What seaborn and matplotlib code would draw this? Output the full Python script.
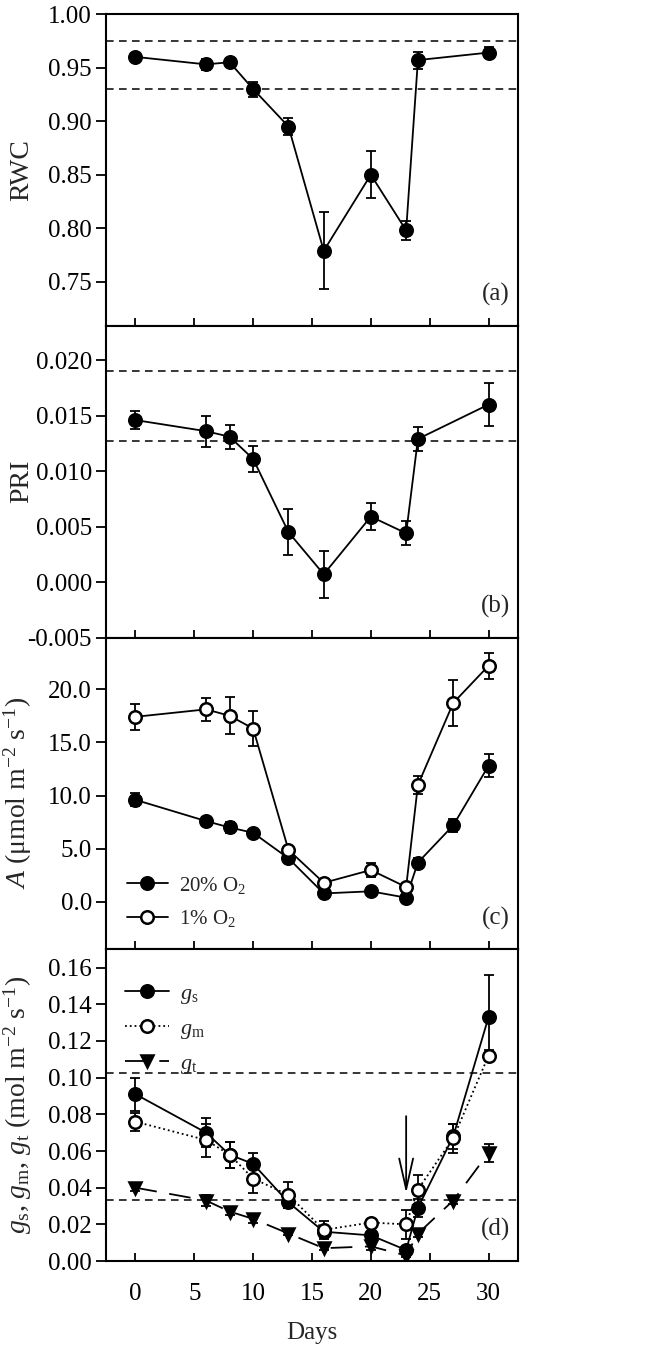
import numpy as np
import pandas as pd
import matplotlib
matplotlib.use('Agg')
import matplotlib.pyplot as plt
import seaborn as sns
from matplotlib.ticker import FormatStrFormatter, MultipleLocator

# ---------------- data ----------------
days = [0, 6, 8, 10, 13, 16, 20, 23, 24, 27, 30]
rwc_days = [0, 6, 8, 10, 13, 16, 20, 23, 24, 30]
rwc = [0.960, 0.953, 0.955, 0.930, 0.895, 0.779, 0.850, 0.798, 0.957, 0.964]
rwc_err = [0.003, 0.005, 0.003, 0.007, 0.008, 0.036, 0.022, 0.009, 0.008, 0.005]
rwc_ref = [0.975, 0.930]

pri_days = [0, 6, 8, 10, 13, 16, 20, 23, 24, 30]
pri = [0.0146, 0.0136, 0.0131, 0.0111, 0.0045, 0.0007, 0.0059, 0.0044, 0.0129, 0.0160]
pri_err = [0.0008, 0.0014, 0.0011, 0.0012, 0.0021, 0.0021, 0.0012, 0.0011, 0.0011, 0.0019]
pri_ref = [0.0190, 0.0127]

a20 = [9.6, 7.6, 7.0, 6.5, 4.1, 0.8, 1.0, 0.4, 3.7, 7.2, 12.8]
a20_err = [0.6, 0.4, 0.5, 0.3, 0.3, 0.2, 0.3, 0.2, 0.4, 0.6, 1.1]
a1 = [17.4, 18.1, 17.5, 16.3, 4.9, 1.8, 3.0, 1.4, 11.0, 18.7, 22.2]
a1_err = [1.2, 1.1, 1.75, 1.6, 0.3, 0.3, 0.65, 0.3, 0.85, 2.15, 1.2]

gs = [0.091, 0.070, 0.058, 0.053, 0.032, 0.016, 0.014, 0.006, 0.029, 0.068, 0.133]
gs_err = [0.009, 0.008, 0.007, 0.006, 0.003, 0.003, 0.002, 0.002, 0.005, 0.007, 0.023]
gm = [0.076, 0.066, 0.058, 0.045, 0.036, 0.017, 0.021, 0.020, 0.039, 0.067, 0.112]
gm_err = [0.005, 0.009, 0.007, 0.008, 0.007, 0.005, 0.002, 0.008, 0.008, 0.008, 0.003]
gt = [0.040, 0.033, 0.027, 0.023, 0.015, 0.007, 0.008, 0.003, 0.015, 0.033, 0.059]
gt_err = [0.002, 0.003, 0.002, 0.002, 0.001, 0.001, 0.002, 0.001, 0.002, 0.002, 0.005]
g_ref = [0.1024, 0.0332]

arrow_day = 23
arrow_from = 0.079
arrow_to = 0.037

panel_labels = ['(a)', '(b)', '(c)', '(d)']

# ---------------- style ----------------
sns.set_theme(style='ticks')
plt.rcParams['font.family'] = ['Liberation Serif', 'DejaVu Serif']
plt.rcParams['mathtext.fontset'] = 'custom'
plt.rcParams['mathtext.rm'] = 'Liberation Serif'
plt.rcParams['mathtext.it'] = 'Liberation Serif:italic'
plt.rcParams['axes.unicode_minus'] = False

FS = 18
FL = 20
LW = 1.3

fig, axes = plt.subplots(4, 1, figsize=(6.6, 13.49), dpi=100, sharex=True)
plt.subplots_adjust(left=0.1606, right=0.7848, top=0.9896, bottom=0.0652, hspace=0)


def series(ax, x, y, err, marker='o', filled=True, ls='-', label=None, ms=9):
    ax.errorbar(x, y, yerr=err, fmt='none', ecolor='black', elinewidth=LW,
                capsize=3.8, capthick=LW, zorder=2)
    df = pd.DataFrame({'Days': x, 'v': y})
    sns.lineplot(data=df, x='Days', y='v', ax=ax, color='black', lw=LW,
                 linestyle=ls, marker=marker, markersize=ms,
                 markerfacecolor='black' if filled else 'white',
                 markeredgecolor='black', markeredgewidth=1.8, zorder=3,
                 label=label, legend=False)
    return ax.lines[-1]


def refs(ax, vals):
    for v in vals:
        ax.axhline(v, color='black', lw=1.1, ls=(0, (5, 3.5)), zorder=1)


# (a) RWC
ax = axes[0]
refs(ax, rwc_ref)
series(ax, rwc_days, rwc, rwc_err)
ax.set_ylim(0.709, 1.0)
ax.yaxis.set_major_locator(MultipleLocator(0.05))
ax.yaxis.set_major_formatter(FormatStrFormatter('%.2f'))
ax.set_ylabel('RWC', fontsize=FL)

# (b) PRI
ax = axes[1]
refs(ax, pri_ref)
series(ax, pri_days, pri, pri_err)
ax.set_ylim(-0.005, 0.0231)
ax.set_yticks([-0.005, 0.0, 0.005, 0.010, 0.015, 0.020])
ax.yaxis.set_major_formatter(FormatStrFormatter('%.3f'))
ax.set_ylabel('PRI', fontsize=FL)

# (c) A
ax = axes[2]
h1 = series(ax, days, a20, a20_err, filled=True, label='20% O$_2$')
h2 = series(ax, days, a1, a1_err, filled=False, label='1% O$_2$')
ax.set_ylim(-4.45, 24.85)
ax.set_yticks([0, 5, 10, 15, 20])
ax.yaxis.set_major_formatter(FormatStrFormatter('%.1f'))
ax.set_ylabel(r'$A$ (μmol m$^{-2}$ s$^{-1}$)', fontsize=FL)
ax.legend(handles=[h1, h2], loc='lower left', bbox_to_anchor=(0.05, 0.065),
          frameon=False, fontsize=15, handlelength=2.0, handletextpad=0.5,
          labelspacing=0.6, borderpad=0, borderaxespad=0)

# (d) conductances
ax = axes[3]
refs(ax, g_ref)
k1 = series(ax, days, gs, gs_err, filled=True, label='$g_\\mathrm{s}$')
k2 = series(ax, days, gm, gm_err, filled=False, ls=':', label='$g_\\mathrm{m}$')
k3 = series(ax, days, gt, gt_err, marker='v', filled=True, ls=(0, (12, 7)),
            label='$g_\\mathrm{t}$', ms=9)
ax.set_ylim(0, 0.17)
ax.yaxis.set_major_locator(MultipleLocator(0.02))
ax.yaxis.set_major_formatter(FormatStrFormatter('%.2f'))
ax.set_ylabel(r'$g_\mathrm{s}$, $g_\mathrm{m}$, $g_\mathrm{t}$ (mol m$^{-2}$ s$^{-1}$)',
              fontsize=FL)
ax.legend(handles=[k1, k2, k3], loc='upper left', bbox_to_anchor=(0.045, 0.89),
          frameon=False, fontsize=16, handlelength=2.0, handletextpad=0.5,
          labelspacing=0.55, borderpad=0, borderaxespad=0)
ax.annotate('', xy=(arrow_day, arrow_to), xytext=(arrow_day, arrow_from),
            arrowprops=dict(arrowstyle='->,head_length=2.2,head_width=0.5',
                            mutation_scale=10, color='black', lw=1.3,
                            shrinkA=0, shrinkB=0), zorder=4)

ax.set_xlim(-2.5, 32.5)
ax.set_xticks([0, 5, 10, 15, 20, 25, 30])
ax.set_xlabel('Days', fontsize=FS, labelpad=12)

for i, ax in enumerate(axes):
    for s in ax.spines.values():
        s.set_visible(True)
        s.set_linewidth(1.5)
        s.set_color('black')
    ax.tick_params(axis='x', direction='in', length=6, width=1.3,
                   labelsize=FS, colors='black', pad=16)
    ax.tick_params(axis='y', direction='out', length=7, width=1.3,
                   labelsize=FS, colors='black', pad=3)
    ax.text(0.98, 0.1, panel_labels[i], transform=ax.transAxes,
            ha='right', va='center', fontsize=FS)
    ax.yaxis.set_label_coords(-0.175, 0.5)
    if i < 3:
        ax.set_xlabel('')

fig.savefig('out.png', dpi=100)
